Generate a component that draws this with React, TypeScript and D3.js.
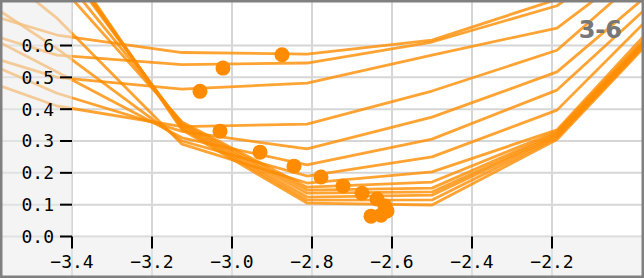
import React, { useEffect, useRef } from "react";
import * as d3 from "d3";

// x positions where every curve was sampled
const sampleXs = [-3.75, -3.4375, -3.125, -2.8125, -2.5, -2.1875, -1.875];

// one curve per run, values at sampleXs
const curveA = [0.75, 0.633, 0.578, 0.573, 0.617, 0.745, 1.05];
const curveB = [0.69, 0.57, 0.54, 0.545, 0.611, 0.725, 1.0];
const curveC = [0.62, 0.5, 0.463, 0.482, 0.57, 0.655, 0.95];
const curveD = [0.55, 0.41, 0.345, 0.353, 0.457, 0.585, 0.93];
const curveE = [0.62, 0.45, 0.33, 0.275, 0.375, 0.517, 0.85];
const curveF = [0.72, 0.517, 0.31, 0.225, 0.306, 0.46, 0.82];
const curveG = [0.85, 0.59, 0.3, 0.19, 0.25, 0.397, 0.79];
const curveH = [1.0, 0.686, 0.29, 0.168, 0.203, 0.335, 0.76];
const curveI = [1.15, 0.8, 0.36, 0.155, 0.171, 0.33, 0.745];
const curveJ = [1.2, 0.84, 0.355, 0.146, 0.152, 0.325, 0.74];
const curveK = [1.25, 0.88, 0.35, 0.136, 0.14, 0.32, 0.735];
const curveL = [1.26, 0.89, 0.345, 0.124, 0.13, 0.315, 0.73];
const curveM = [1.27, 0.9, 0.34, 0.114, 0.115, 0.31, 0.725];
const curveN = [1.28, 0.91, 0.335, 0.105, 0.099, 0.305, 0.72];
const curves = [curveA, curveB, curveC, curveD, curveE, curveF, curveG, curveH, curveI, curveJ, curveK, curveL, curveM, curveN];

// fitted minima
const minX = [-2.875, -3.0225, -3.08, -3.03, -2.93, -2.845, -2.7775, -2.7225, -2.675, -2.6375, -2.6175, -2.6125, -2.6275, -2.6525];
const minY = [0.571, 0.529, 0.456, 0.331, 0.265, 0.221, 0.187, 0.159, 0.136, 0.118, 0.096, 0.08, 0.067, 0.064];

const xTicks = [-3.4, -3.2, -3.0, -2.8, -2.6, -2.4, -2.2];
const yTicks = [0.0, 0.1, 0.2, 0.3, 0.4, 0.5, 0.6];
const panelLabel = "3-6";

const width = 644;
const height = 278;

export default function App() {
  const ref = useRef<SVGSVGElement>(null);

  useEffect(() => {
    const svg = d3.select(ref.current);
    svg.selectAll("*").remove();

    const left = 72;
    const bottom = 236.5;
    const x = d3.scaleLinear().domain([-3.4, -1.97]).range([left, width]);
    const y = d3.scaleLinear().domain([0, 0.743]).range([bottom, 0]);

    svg.append("rect").attr("width", width).attr("height", height).attr("fill", "#fff");

    // grid runs over the margins too
    svg.append("g")
      .selectAll("line")
      .data(xTicks)
      .enter().append("line")
      .attr("x1", d => x(d)).attr("x2", d => x(d))
      .attr("y1", 0).attr("y2", height)
      .attr("stroke", "#d6d6d6").attr("stroke-width", 2);
    svg.append("g")
      .selectAll("line")
      .data(yTicks)
      .enter().append("line")
      .attr("y1", d => y(d)).attr("y2", d => y(d))
      .attr("x1", 0).attr("x2", width)
      .attr("stroke", "#d6d6d6").attr("stroke-width", 2);

    const line = d3.line<number>()
      .x((_, i) => x(sampleXs[i]))
      .y(d => y(d));

    svg.append("g")
      .selectAll("path")
      .data(curves)
      .enter().append("path")
      .attr("d", d => line(d))
      .attr("fill", "none")
      .attr("stroke", "#ff8c00")
      .attr("stroke-opacity", 0.8)
      .attr("stroke-width", 2.8)
      .attr("stroke-linejoin", "round");

    svg.append("g")
      .selectAll("circle")
      .data(minX)
      .enter().append("circle")
      .attr("cx", d => x(d))
      .attr("cy", (_, i) => y(minY[i]))
      .attr("r", 7.5)
      .attr("fill", "#ff8c00");

    // translucent veil over the margins
    svg.append("path")
      .attr("d", `M0,0H${left}V${bottom}H${width}V${height}H0Z`)
      .attr("fill", "rgb(235,235,235)")
      .attr("fill-opacity", 0.55);

    const yAxis = svg.append("g");
    yAxis.selectAll("line")
      .data(yTicks)
      .enter().append("line")
      .attr("x1", left - 12).attr("x2", left)
      .attr("y1", d => y(d)).attr("y2", d => y(d))
      .attr("stroke", "#000").attr("stroke-width", 2);
    yAxis.selectAll("text")
      .data(yTicks)
      .enter().append("text")
      .attr("x", left - 18)
      .attr("y", d => y(d))
      .attr("dy", "0.36em")
      .attr("text-anchor", "end")
      .style("font-family", "'DejaVu Sans Mono', monospace")
      .style("font-size", "18px")
      .attr("fill", "#000")
      .text(d => d3.format(".1f")(d));

    const xAxis = svg.append("g");
    xAxis.selectAll("line")
      .data(xTicks)
      .enter().append("line")
      .attr("x1", d => x(d)).attr("x2", d => x(d))
      .attr("y1", bottom).attr("y2", bottom + 12)
      .attr("stroke", "#000").attr("stroke-width", 2);
    xAxis.selectAll("text")
      .data(xTicks)
      .enter().append("text")
      .attr("x", d => x(d))
      .attr("y", 268)
      .attr("text-anchor", "middle")
      .style("font-family", "'DejaVu Sans Mono', monospace")
      .style("font-size", "18px")
      .attr("fill", "#000")
      .text(d => d3.format(".1f")(d));

    svg.append("text")
      .attr("x", 622)
      .attr("y", 38)
      .attr("text-anchor", "end")
      .style("font-family", "'DejaVu Sans', sans-serif")
      .style("font-size", "24px")
      .style("font-weight", "bold")
      .attr("fill", "#777")
      .text(panelLabel);

    svg.append("rect")
      .attr("width", width).attr("height", height)
      .attr("fill", "none")
      .attr("stroke", "#808080")
      .attr("stroke-width", 5);
  }, []);

  return (
    <svg
      ref={ref}
      width={width}
      height={height}
      style={{ position: "absolute", left: 0, top: 0, display: "block" }}
    />
  );
}
